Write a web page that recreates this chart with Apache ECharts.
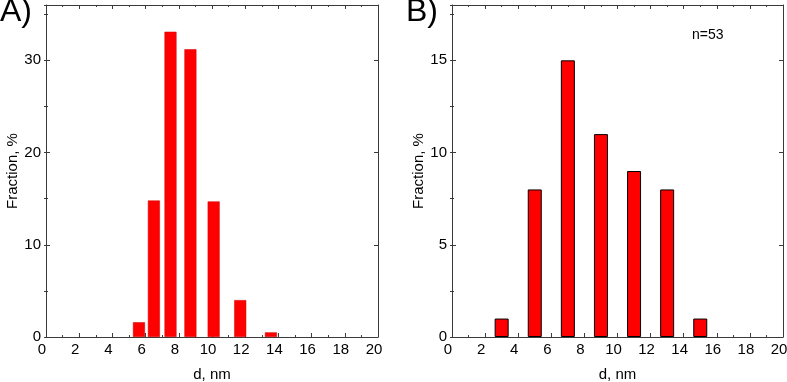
<!DOCTYPE html>
<html>
<head>
<meta charset="utf-8">
<script src="https://cdn.jsdelivr.net/npm/echarts@6/dist/echarts.min.js"></script>
<style>
html,body{margin:0;padding:0;background:#fff;}
#c{width:787px;height:382px;}
</style>
</head>
<body>
<div id="c"></div>
<script>
// Panel A data
var aX = [5.6, 6.5, 7.5, 8.7, 10.1, 11.7, 13.55];
var aY = [1.6, 14.8, 33.1, 31.2, 14.7, 4.0, 0.5];
// Panel B data
var bX = [3, 5, 7, 9, 11, 13, 15];
var bY = [1, 8, 15, 11, 9, 8, 1];
// axis ranges / ticks
var xMin = 0, xMax = 20, xStep = 2;
var aYMax = 36, aYStep = 10;
var bYMax = 18, bYStep = 5;
var panelLabels = ['A)', 'B)'];
var xTitle = 'd, nm';
var yTitle = 'Fraction, %';
var nText = 'n=53';

var FONT = '"Liberation Sans", Arial, sans-serif';
var LINE = '#3a3a3a';
var FS = 15;

function pairs(xs, ys){ return xs.map(function(x,i){ return [x, ys[i]]; }); }

var grids = [
  {left: 46, top: 5, width: 332, height: 332, outerBoundsMode: 'none', containLabel: false},
  {left: 452, top: 5, width: 331, height: 332, outerBoundsMode: 'none', containLabel: false}
];

var xAxes = [], yAxes = [];
function addAxes(gi, yMax, yStep){
  xAxes.push({
    gridIndex: gi, type: 'value', position: 'bottom', min: xMin, max: xMax, interval: xStep,
    axisLine: {show: true, onZero: false, lineStyle: {color: LINE, width: 1}},
    axisTick: {show: true, inside: true, length: 4, lineStyle: {color: LINE}},
    minorTick: {show: true, splitNumber: 2, length: 2, lineStyle: {color: LINE}},
    splitLine: {show: false},
    axisLabel: {show: true, color: '#000', fontSize: FS, fontFamily: FONT, margin: 5, padding: [0, 8, 0, 0]},
    name: xTitle, nameLocation: 'middle', nameGap: 30,
    nameTextStyle: {color: '#000', fontSize: FS, fontFamily: FONT}
  });
  xAxes.push({
    gridIndex: gi, type: 'value', position: 'top', min: xMin, max: xMax, interval: xStep,
    axisLine: {show: true, onZero: false, lineStyle: {color: LINE, width: 1}},
    axisTick: {show: true, inside: true, length: 4, lineStyle: {color: LINE}},
    minorTick: {show: true, splitNumber: 2, length: 2, lineStyle: {color: LINE}},
    splitLine: {show: false}, axisLabel: {show: false}
  });
  // left major
  yAxes.push({
    gridIndex: gi, type: 'value', position: 'left', min: 0, max: yMax, interval: yStep,
    axisLine: {show: true, onZero: false, lineStyle: {color: LINE, width: 1}},
    axisTick: {show: true, inside: true, length: 4, lineStyle: {color: LINE}},
    splitLine: {show: false},
    axisLabel: {show: true, color: '#000', fontSize: FS, fontFamily: FONT, margin: 5, showMaxLabel: false},
    name: yTitle, nameLocation: 'middle', nameGap: 26,
    nameTextStyle: {color: '#000', fontSize: FS, fontFamily: FONT}
  });
  // left minor
  yAxes.push({
    gridIndex: gi, type: 'value', position: 'left', offset: 0, min: 0, max: yMax, interval: yStep / 2,
    axisLine: {show: false}, axisTick: {show: true, inside: true, length: 2, lineStyle: {color: LINE}},
    splitLine: {show: false}, axisLabel: {show: false}
  });
  // right major
  yAxes.push({
    gridIndex: gi, type: 'value', position: 'right', offset: 0, min: 0, max: yMax, interval: yStep,
    axisLine: {show: true, onZero: false, lineStyle: {color: LINE, width: 1}},
    axisTick: {show: true, inside: true, length: 4, lineStyle: {color: LINE}},
    splitLine: {show: false}, axisLabel: {show: false}
  });
  // right minor
  yAxes.push({
    gridIndex: gi, type: 'value', position: 'right', offset: 0, min: 0, max: yMax, interval: yStep / 2,
    axisLine: {show: false}, axisTick: {show: true, inside: true, length: 2, lineStyle: {color: LINE}},
    splitLine: {show: false}, axisLabel: {show: false}
  });
}
addAxes(0, aYMax, aYStep);
addAxes(1, bYMax, bYStep);

var chart = echarts.init(document.getElementById('c'), null, {renderer: 'canvas'});
chart.setOption({
  animation: false,
  backgroundColor: '#fff',
  grid: grids,
  xAxis: xAxes,
  yAxis: yAxes,
  graphic: [
    {type: 'text', left: 0, top: -4, style: {text: panelLabels[0], fontSize: 32, fontFamily: FONT, fill: '#000'}},
    {type: 'text', left: 406, top: -4, style: {text: panelLabels[1], fontSize: 32, fontFamily: FONT, fill: '#000'}},
    {type: 'text', left: 692, top: 28, style: {text: nText, fontSize: 14, fontFamily: FONT, fill: '#000'}}
  ],
  series: [
    {
      type: 'bar', xAxisIndex: 0, yAxisIndex: 0, barWidth: 12,
      itemStyle: {color: '#ff0000', borderColor: '#d00000', borderWidth: 0.5},
      data: pairs(aX, aY)
    },
    {
      type: 'bar', xAxisIndex: 2, yAxisIndex: 4, barWidth: 14,
      itemStyle: {color: '#ff0000', borderColor: '#000', borderWidth: 1},
      data: pairs(bX, bY)
    }
  ]
});
</script>
</body>
</html>
